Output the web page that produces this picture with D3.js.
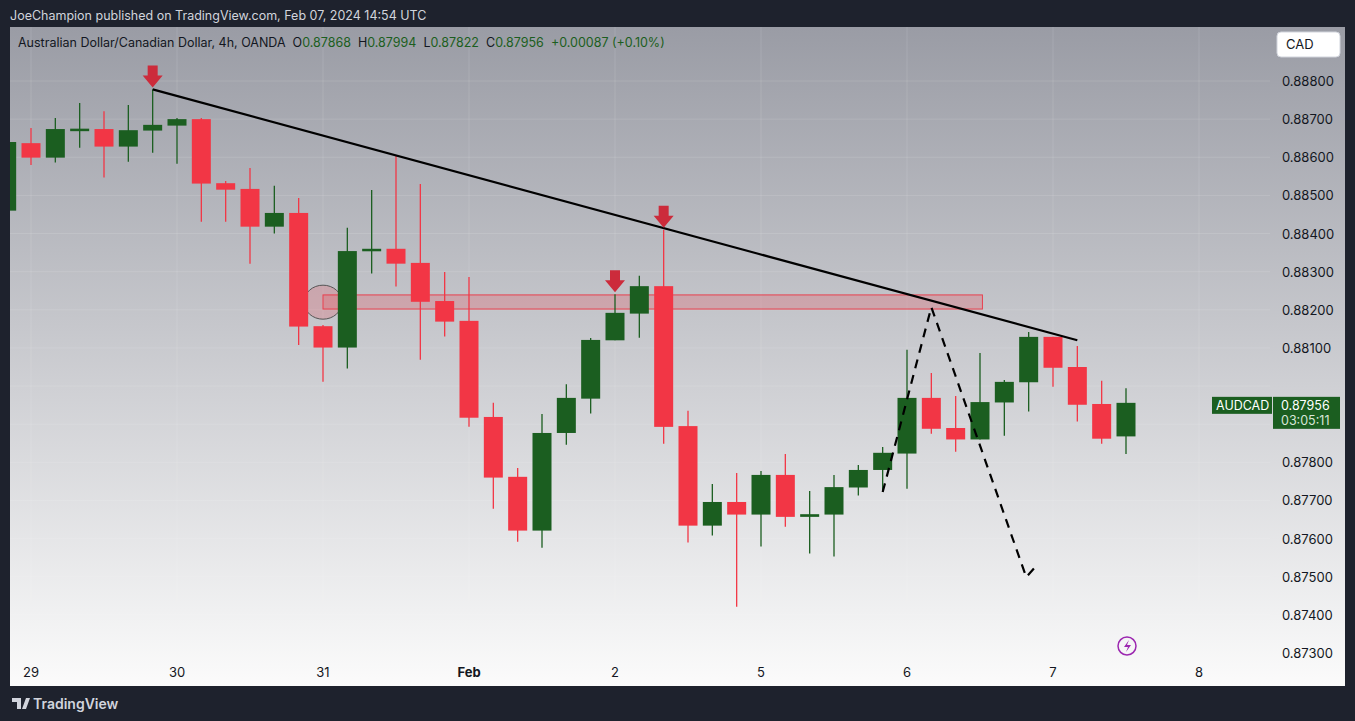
<!DOCTYPE html>
<html>
<head>
<meta charset="utf-8">
<script src="https://cdn.jsdelivr.net/npm/d3@7"></script>
<style>
  body { margin: 0; background: #1e222d; }
  svg { display: block; font-family: "Inter", "Roboto", sans-serif; }
</style>
</head>
<body>
<svg id="svg" width="1355" height="721"></svg>
<script>
// candles, index 0 = first candle of Jan 29 (index -1 is partly cut off at the left)
const opens  = [0.8846,0.88637,0.88599,0.88674,0.88674,0.88628,0.8867,0.88683,0.887,0.88532,0.88517,0.88418,0.88454,0.88157,0.88101,0.88354,0.8836,0.88323,0.88223,0.88171,0.87919,0.87762,0.87621,0.87877,0.87967,0.8812,0.8819,0.88262,0.87895,0.87634,0.87696,0.87663,0.87767,0.87657,0.87663,0.87734,0.8778,0.87823,0.87969,0.8789,0.8786,0.87957,0.8801,0.88129,0.8805,0.87953,0.87868];
const highs  = [0.8865,0.88677,0.88703,0.88742,0.88721,0.88737,0.88778,0.88703,0.88703,0.88538,0.88572,0.88525,0.88493,0.8816,0.88415,0.88514,0.88603,0.8853,0.88299,0.88286,0.87956,0.87785,0.87927,0.88005,0.88126,0.88241,0.88289,0.8841,0.87935,0.87743,0.87772,0.87777,0.87822,0.87725,0.87767,0.87793,0.8784,0.88095,0.88034,0.87974,0.88087,0.88016,0.88142,0.88129,0.88105,0.88014,0.87994];
const lows   = [0.8845,0.8858,0.88586,0.88625,0.88547,0.88588,0.88612,0.88583,0.88431,0.88431,0.88321,0.884,0.88108,0.88011,0.88046,0.88295,0.88261,0.88069,0.8813,0.87893,0.87678,0.87592,0.87576,0.87846,0.87928,0.8812,0.88127,0.87849,0.8759,0.87608,0.87421,0.87579,0.87631,0.87561,0.87553,0.87713,0.87722,0.87731,0.87875,0.87828,0.8786,0.8787,0.87933,0.87998,0.87907,0.87849,0.87822];
const closes = [0.8864,0.88599,0.88674,0.88675,0.88628,0.88671,0.88685,0.887,0.88531,0.88515,0.88418,0.88454,0.88156,0.88101,0.88354,0.8836,0.88321,0.88221,0.88169,0.87917,0.8776,0.87621,0.87877,0.87969,0.88121,0.88192,0.88262,0.87893,0.87634,0.87696,0.87663,0.87767,0.87657,0.87664,0.87735,0.8778,0.87825,0.87969,0.87888,0.8786,0.87958,0.88011,0.88129,0.88048,0.87951,0.87862,0.87956];
const firstIndex = -1;

const dayTicks = [0, 6, 12, 18, 24, 30, 36, 42, 48];
const dayLabels = ["29", "30", "31", "Feb", "2", "5", "6", "7", "8"];
const priceTicks = [0.888, 0.887, 0.886, 0.885, 0.884, 0.883, 0.882, 0.881, 0.880, 0.879, 0.878, 0.877, 0.876, 0.875, 0.874, 0.873];

// drawings
const trendLine = [[5, 0.88778], [43, 0.8812]];
const zoneBox = { from: 12, to: 39.1, top: 0.88239, bottom: 0.88202 };
const pathDashed = [[35, 0.87722], [37, 0.88207], [40.9, 0.87499], [41.3, 0.87528]];
const arrowsAt = [[5, 0.88778], [24, 0.88241], [26, 0.8841]];

const GREEN = "#1b5e20", RED = "#f23645";
const svg = d3.select("#svg");

const x = d3.scaleLinear().domain([0, 6]).range([31, 177]);
const y = d3.scaleLinear().domain([0.873, 0.888]).range([653, 81]);

// header
svg.append("text").attr("x", 10).attr("y", 20).attr("fill", "#d1d4dc")
  .style("font-size", "12.5px").text("JoeChampion published on TradingView.com, Feb 07, 2024 14:54 UTC");

// panel with gradient
const defs = svg.append("defs");
const grad = defs.append("linearGradient").attr("id", "bg").attr("x1", 0).attr("x2", 0).attr("y1", 0).attr("y2", 1);
grad.append("stop").attr("offset", "0%").attr("stop-color", "#9a9ca5");
grad.append("stop").attr("offset", "100%").attr("stop-color", "#fbfbfb");
svg.append("rect").attr("x", 10).attr("y", 27).attr("width", 1335).attr("height", 659).attr("fill", "url(#bg)");
defs.append("clipPath").attr("id", "plot").append("rect").attr("x", 10).attr("y", 27).attr("width", 1200).attr("height", 633);

// grid
const grid = svg.append("g").attr("stroke", "#ffffff").attr("stroke-opacity", 0.12);
priceTicks.forEach(p => grid.append("line").attr("x1", 10).attr("x2", 1270).attr("y1", y(p)).attr("y2", y(p)));
dayTicks.forEach(d => grid.append("line").attr("x1", x(d)).attr("x2", x(d)).attr("y1", 27).attr("y2", 660));

// price axis labels (the one under the last-price box is hidden by it, as on the original)
const last = closes[closes.length - 1];
svg.append("g").selectAll("text").data(priceTicks.filter(p => Math.abs(y(p) - y(last)) > 26)).join("text")
  .attr("x", 1282).attr("y", d => y(d) + 5).attr("fill", "#131722").style("font-size", "13px")
  .text(d => d.toFixed(5));

// time axis labels
svg.append("g").selectAll("text").data(dayTicks).join("text")
  .attr("x", d => x(d)).attr("y", 677).attr("text-anchor", "middle").attr("fill", "#131722")
  .style("font-size", "13px").style("font-weight", (d, i) => dayLabels[i] === "Feb" ? "bold" : "normal")
  .text((d, i) => dayLabels[i]);

const plot = svg.append("g").attr("clip-path", "url(#plot)");

// zone box
plot.append("rect").attr("x", x(zoneBox.from)).attr("y", y(zoneBox.top))
  .attr("width", x(zoneBox.to) - x(zoneBox.from)).attr("height", y(zoneBox.bottom) - y(zoneBox.top))
  .attr("fill", "rgba(242,54,69,0.22)").attr("stroke", "#e8414f").attr("stroke-width", 1);
// ellipse highlight
plot.append("ellipse").attr("cx", x(12)).attr("cy", y(0.8822)).attr("rx", 19).attr("ry", 17)
  .attr("fill", "rgba(242,54,69,0.2)").attr("stroke", "#555").attr("stroke-width", 1);

// candles
const data = opens.map((o, i) => ({ i: i + firstIndex, o, h: highs[i], l: lows[i], c: closes[i] }));
const cg = plot.append("g").selectAll("g").data(data).join("g");
cg.append("line").attr("x1", d => x(d.i)).attr("x2", d => x(d.i))
  .attr("y1", d => y(d.h)).attr("y2", d => y(d.l))
  .attr("stroke", d => d.c >= d.o ? GREEN : RED).attr("stroke-width", 1.3);
cg.append("rect").attr("x", d => x(d.i) - 9.5).attr("width", 19)
  .attr("y", d => y(Math.max(d.o, d.c)))
  .attr("height", d => Math.max(2.5, Math.abs(y(d.o) - y(d.c))))
  .attr("fill", d => d.c >= d.o ? GREEN : RED);

// trend line
const line = d3.line().x(d => x(d[0])).y(d => y(d[1]));
plot.append("path").attr("d", line(trendLine)).attr("stroke", "#000").attr("stroke-width", 2.2).attr("fill", "none");
plot.append("path").attr("d", line(pathDashed)).attr("stroke", "#000").attr("stroke-width", 2.2)
  .attr("stroke-dasharray", "9,7").attr("fill", "none");

// arrows
arrowsAt.forEach(a => {
  const ax = x(a[0]), ay = y(a[1]) - 1;
  plot.append("path")
    .attr("d", `M${ax-5},${ay-23} h10 v10 h5 l-10,12 l-10,-12 h5 z`)
    .attr("fill", "#cc2b3b");
});

// lightning icon
svg.append("circle").attr("cx", 1127).attr("cy", 646).attr("r", 9).attr("fill", "none")
  .attr("stroke", "#9c27b0").attr("stroke-width", 1.5);
svg.append("path").attr("d", "M1129,640 l-5,7 h4 l-2,5 l5,-7 h-4 z").attr("fill", "#9c27b0");

// CAD button
svg.append("rect").attr("x", 1277).attr("y", 32).attr("width", 63).attr("height", 25).attr("rx", 4)
  .attr("fill", "#fff").attr("stroke", "#d1d4dc");
svg.append("text").attr("x", 1286).attr("y", 49).attr("fill", "#131722").style("font-size", "13px").text("CAD");

// last price labels
svg.append("rect").attr("x", 1212).attr("y", y(last) - 6).attr("width", 60).attr("height", 17).attr("fill", GREEN);
svg.append("text").attr("x", 1216).attr("y", y(last) + 7).attr("fill", "#fff").style("font-size", "12.5px").text("AUDCAD");
svg.append("rect").attr("x", 1273).attr("y", y(last) - 6).attr("width", 67).attr("height", 32).attr("fill", GREEN);
svg.append("text").attr("x", 1281).attr("y", y(last) + 7).attr("fill", "#fff").style("font-size", "12.5px").text(last.toFixed(5));
svg.append("text").attr("x", 1281).attr("y", y(last) + 22).attr("fill", "#d8e6d8").style("font-size", "12.5px").text("03:05:11");

// legend line
const leg = svg.append("text").attr("x", 18).attr("y", 47).style("font-size", "12.5px").attr("fill", "#131722");
const parts = [["Australian Dollar/Canadian Dollar, 4h, OANDA  O", "#131722"], ["0.87868", GREEN], ["  H", "#131722"], ["0.87994", GREEN],
  ["  L", "#131722"], ["0.87822", GREEN], ["  C", "#131722"], ["0.87956", GREEN], ["  +0.00087 (+0.10%)", GREEN]];
parts.forEach(p => leg.append("tspan").attr("fill", p[1]).attr("xml:space", "preserve").style("white-space", "pre").text(p[0]));

// footer
svg.append("text").attr("x", 33).attr("y", 709).attr("fill", "#d1d4dc").style("font-size", "14px").style("font-weight", "600").text("TradingView");
svg.append("path").attr("d", "M12,698 h9 v11 h-4 v-7 h-5 z M22,709 l4,-11 h4 l-4,11 z").attr("fill", "#d1d4dc");
</script>
</body>
</html>
